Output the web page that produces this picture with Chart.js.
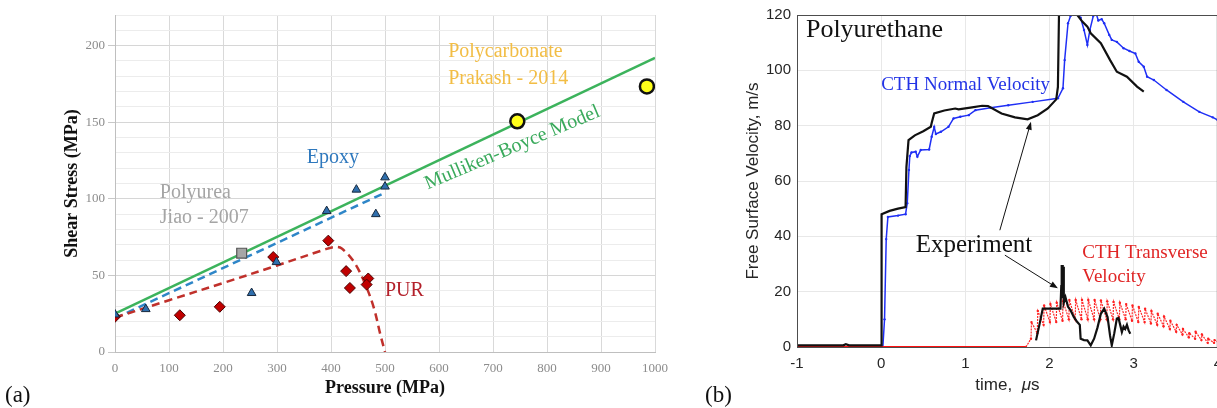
<!DOCTYPE html>
<html>
<head>
<meta charset="utf-8">
<script src="https://cdn.jsdelivr.net/npm/chart.js@4.4.1/dist/chart.umd.min.js"></script>
<style>
  html, body { margin: 0; padding: 0; background: #fff; overflow: hidden; width: 1217px; height: 408px; }
  #wrapA { position: absolute; left: 0; top: 0; width: 700px; height: 408px; }
  #wrapB { position: absolute; left: 700px; top: 0; width: 530px; height: 408px; }
</style>
</head>
<body>
<div id="wrapA"><canvas id="chartA" width="700" height="408"></canvas></div>
<div id="wrapB"><canvas id="chartB" width="530" height="408"></canvas></div>
<script>
// ---- panel (a): shear stress vs pressure ----
const mbPressure = [0, 1000];
const mbStress = [25, 192];
const epoxyFitP = [0, 500];
const epoxyFitS = [22, 104];
const purFitP = [0, 100, 200, 300, 385, 405, 420, 444, 466, 480, 491, 500];
const purFitS = [22.5, 33.8, 45, 56.5, 66.5, 68.5, 67.5, 58, 42, 28, 12, 0];
const epoxyP = [0, 57, 253, 299, 392, 447, 483, 500, 500];
const epoxyS = [24.5, 28, 38.5, 58.7, 92, 106, 90, 114, 108];
const purP = [0, 120, 194, 293, 395, 428, 435, 469, 466];
const purS = [23, 24, 29.5, 62, 72.7, 52.8, 41.8, 48, 44];
const polyureaP = [234.6];
const polyureaS = [64.5];
const pcP = [745, 985];
const pcS = [150.6, 173.4];

// ---- panel (b): free surface velocity vs time ----
const expT = [-1, -0.45, -0.42, -0.38, 0, 0.005, 0.1, 0.2, 0.29, 0.3, 0.325, 0.4, 0.5, 0.59, 0.6, 0.63, 0.75, 0.88, 0.92, 1.08, 1.2, 1.27, 1.43, 1.59, 1.74, 1.86, 1.98, 2.08, 2.1, 2.12, 2.3, 2.33, 2.39, 2.45, 2.49, 2.61, 2.72, 2.8, 2.92, 3.04, 3.12];
const expV = [0.6, 0.6, 1, 0.6, 0.6, 48, 49.2, 50, 50.6, 65, 74.8, 76.5, 78, 79.6, 81, 84.4, 85.5, 86.2, 85.9, 86.6, 87.2, 87.1, 84.4, 83, 82.3, 83.8, 86.2, 89.5, 94, 135, 128, 120, 117.6, 115.8, 113.4, 109.8, 103.7, 99.5, 97.7, 94.1, 92.3];

const expTrT = [1.84, 1.88, 1.92, 2.13, 2.14, 2.145, 2.15, 2.155, 2.16, 2.165, 2.17, 2.19, 2.22, 2.25, 2.29, 2.33, 2.36, 2.37, 2.41, 2.45, 2.49, 2.53, 2.57, 2.61, 2.65, 2.69, 2.72, 2.74, 2.77, 2.8, 2.82, 2.84, 2.86, 2.88, 2.9, 2.92, 2.94, 2.96];
const expTrV = [2.4, 8, 13.9, 13.9, 22, 29.6, 18, 29.6, 20, 29, 16, 18, 14.5, 13.3, 10.8, 9, 8, 3, 2.5, 2.4, 0.6, 3, 7, 12, 13.9, 10.8, 4, 0.6, 5, 10.3, 10.5, 8, 5.4, 7.4, 6.5, 8, 6, 4.8];

const cthNT = [-1, 0.02, 0.04, 0.06, 0.08, 0.2, 0.29, 0.31, 0.33, 0.34, 0.36, 0.41, 0.43, 0.47, 0.57, 0.6, 0.63, 0.65, 0.71, 0.8, 0.86, 0.94, 1.04, 1.12, 1.3, 1.51, 1.8, 2.1, 2.16, 2.18, 2.22, 2.25, 2.28, 2.33, 2.37, 2.41, 2.45, 2.48, 2.52, 2.55, 2.58, 2.62, 2.65, 2.71, 2.74, 2.8, 2.88, 2.95, 3.02, 3.06, 3.12, 3.16, 3.24, 3.39, 3.59, 3.78, 3.94, 4.0];
const cthNV = [0, 0, 10, 39, 47, 47.5, 48, 52, 64, 69, 70.3, 70.6, 68.8, 71.2, 71.4, 76, 79.5, 77, 77.8, 79.6, 82.6, 83.2, 83.8, 85.6, 86.5, 87.4, 88.6, 89.9, 93.5, 103.7, 117, 119.6, 121, 120.5, 119, 114.6, 109.2, 114.6, 119.6, 121, 118, 118.5, 117, 112.8, 111, 110.3, 108, 107, 106.1, 103.1, 101.3, 97.7, 96.5, 92.9, 88.6, 85, 83, 82];

const cthTT = [-1, 1.72, 1.78, 1.786, 1.855, 1.861, 1.93, 1.936, 2.005, 2.011, 2.08, 2.086, 2.155, 2.161, 2.23, 2.236, 2.305, 2.311, 2.38, 2.386, 2.455, 2.461, 2.53, 2.536, 2.605, 2.611, 2.68, 2.686, 2.755, 2.761, 2.83, 2.836, 2.905, 2.911, 2.98, 2.986, 3.055, 3.061, 3.13, 3.136, 3.205, 3.211, 3.28, 3.286, 3.355, 3.361, 3.43, 3.436, 3.505, 3.511, 3.58, 3.586, 3.655, 3.661, 3.73, 3.736, 3.805, 3.811, 3.88, 3.886, 3.955, 3.961, 4.0];
const cthTV = [0, 0, 3, 9, 5, 13, 8, 15, 9, 15.5, 9, 16, 9.5, 16.5, 10, 17, 10, 17, 10, 17, 10, 17, 10, 17, 10, 16.8, 10, 16.5, 10, 16.3, 10, 16, 10, 15.5, 9.5, 15, 9, 14.5, 9, 13.8, 8.5, 13, 8, 12, 7.5, 11, 6.5, 9.5, 5.5, 8, 4.5, 6.5, 3.5, 5, 3, 5.5, 2.5, 4.5, 1.5, 3, 1.5, 2.5, 2];

const xy = (xs, ys) => xs.map((x, i) => ({ x: x, y: ys[i] }));

const SERIF = '"Liberation Serif", "Times New Roman", serif';
const SANS = '"Liberation Sans", Arial, sans-serif';

function label(ctx, str, x, y, font, color, align) {
  ctx.font = font;
  ctx.fillStyle = color;
  ctx.textAlign = align || 'left';
  ctx.textBaseline = 'middle';
  ctx.fillText(str, x, y);
}

function arrow(ctx, x1, y1, x2, y2) {
  const a = Math.atan2(y2 - y1, x2 - x1);
  ctx.strokeStyle = '#111';
  ctx.fillStyle = '#111';
  ctx.lineWidth = 1;
  ctx.beginPath();
  ctx.moveTo(x1, y1);
  ctx.lineTo(x2 - 6 * Math.cos(a), y2 - 6 * Math.sin(a));
  ctx.stroke();
  ctx.beginPath();
  ctx.moveTo(x2, y2);
  ctx.lineTo(x2 - 8 * Math.cos(a) + 3 * Math.sin(a), y2 - 8 * Math.sin(a) - 3 * Math.cos(a));
  ctx.lineTo(x2 - 8 * Math.cos(a) - 3 * Math.sin(a), y2 - 8 * Math.sin(a) + 3 * Math.cos(a));
  ctx.closePath();
  ctx.fill();
}

// text for panel (a)
const notesA = {
  id: 'notesA',
  afterDraw(chart) {
    const ctx = chart.ctx;
    const sx = chart.scales.x, sy = chart.scales.y;
    const px = v => sx.getPixelForValue(v), py = v => sy.getPixelForValue(v);
    ctx.save();
    label(ctx, 'Polycarbonate', px(617), py(196), '20px ' + SERIF, '#f2bd45');
    label(ctx, 'Prakash - 2014', px(617), py(178.6), '20px ' + SERIF, '#f2bd45');
    label(ctx, 'Epoxy', px(355), py(126.6), '20px ' + SERIF, '#2e78bd');
    label(ctx, 'Polyurea', px(83), py(104), '20px ' + SERIF, '#a5a5a5');
    label(ctx, 'Jiao - 2007', px(83), py(87.7), '20px ' + SERIF, '#a5a5a5');
    label(ctx, 'PUR', px(500), py(40), '20px ' + SERIF, '#b3202a');
    ctx.save();
    ctx.translate(px(736), py(133.3));
    ctx.rotate(-23 * Math.PI / 180);
    label(ctx, 'Mulliken-Boyce Model', 0, 0, '20px ' + SERIF, '#3aaa5c', 'center');
    ctx.restore();
    // axis titles
    label(ctx, 'Pressure (MPa)', (chart.chartArea.left + chart.chartArea.right) / 2, 388, 'bold 18px ' + SERIF, '#111', 'center');
    ctx.save();
    ctx.translate(72, (chart.chartArea.top + chart.chartArea.bottom) / 2);
    ctx.rotate(-Math.PI / 2);
    label(ctx, 'Shear Stress (MPa)', 0, 0, 'bold 18px ' + SERIF, '#111', 'center');
    ctx.restore();
    label(ctx, '(a)', 5, 396, '23px ' + SERIF, '#111');
    ctx.restore();
  }
};

new Chart(document.getElementById('chartA'), {
  type: 'scatter',
  data: {
    datasets: [
      { data: xy(pcP, pcS), pointStyle: 'circle', pointRadius: 7, backgroundColor: '#ffff1a', borderColor: '#111', borderWidth: 2.5, order: 0 },
      { data: xy(polyureaP, polyureaS), pointStyle: 'rect', pointRadius: 7, backgroundColor: '#a6a6a6', borderColor: '#555', borderWidth: 1.2, order: 0 },
      { data: xy(epoxyP, epoxyS), pointStyle: 'triangle', pointRadius: 5, backgroundColor: '#2f6fad', borderColor: '#17283d', borderWidth: 1, order: 1 },
      { data: xy(purP, purS), pointStyle: 'rectRot', pointRadius: 5.5, backgroundColor: '#c00000', borderColor: '#4a0000', borderWidth: 1, order: 2 },
      { data: xy(purFitP, purFitS), showLine: true, pointRadius: 0, borderColor: '#c0302b', borderWidth: 2.5, borderDash: [8, 5], tension: 0.35, order: 5 },
      { data: xy(epoxyFitP, epoxyFitS), showLine: true, pointRadius: 0, borderColor: '#2e86c8', borderWidth: 2.5, borderDash: [8, 5], order: 5 },
      { data: xy(mbPressure, mbStress), showLine: true, pointRadius: 0, borderColor: '#3cb35c', borderWidth: 2.5, order: 6 }
    ]
  },
  options: {
    responsive: false,
    animation: false,
    layout: { padding: { top: 15, right: 45, left: 0, bottom: 0 } },
    plugins: { legend: { display: false }, tooltip: { enabled: false } },
    scales: {
      x: {
        type: 'linear', min: 0, max: 1000,
        ticks: { stepSize: 100, autoSkip: false, maxRotation: 0, padding: 9, color: '#8c8c8c', font: { family: SERIF, size: 13 },
          callback: v => String(v) },
        grid: { color: '#d9d9d9', drawTicks: false },
        border: { color: '#bfbfbf' },
        afterFit(s) { s.height = 56; }
      },
      y: {
        type: 'linear', min: 0, max: 220,
        ticks: { stepSize: 10, autoSkip: false, padding: 3, color: '#8c8c8c', font: { family: SERIF, size: 13 },
          callback: v => (v % 50 === 0 ? String(v) : '') },
        grid: { color: c => (c.tick && c.tick.value % 50 === 0 ? '#d6d6d6' : '#ececec'),
          tickColor: c => (c.tick && c.tick.value % 50 === 0 ? '#c8c8c8' : 'rgba(0,0,0,0)'), tickLength: 7 },
        border: { color: '#bfbfbf' },
        afterFit(s) { s.width = 115; }
      }
    }
  },
  plugins: [notesA]
});

// text, arrows and frame for panel (b)
const notesB = {
  id: 'notesB',
  afterDraw(chart) {
    const ctx = chart.ctx;
    const a = chart.chartArea;
    const sx = chart.scales.x, sy = chart.scales.y;
    const px = v => sx.getPixelForValue(v), py = v => sy.getPixelForValue(v);
    ctx.save();
    ctx.strokeStyle = '#4d4d4d';
    ctx.lineWidth = 1;
    ctx.strokeRect(a.left + 0.5, a.top + 0.5, a.right - a.left - 1, a.bottom - a.top);
    label(ctx, 'Polyurethane', px(-0.894), py(114.6), '26px ' + SERIF, '#111');
    label(ctx, 'CTH Normal Velocity', px(0.0), py(94.7), '19px ' + SERIF, '#2233e6');
    label(ctx, 'Experiment', px(0.41), py(36.8), '25px ' + SERIF, '#111');
    label(ctx, 'CTH Transverse', px(2.39), py(33.9), '19px ' + SERIF, '#e02525');
    label(ctx, 'Velocity', px(2.39), py(25.2), '19px ' + SERIF, '#e02525');
    arrow(ctx, px(1.41), py(42.2), px(1.78), py(81.4));
    arrow(ctx, px(1.47), py(33.2), px(2.10), py(21.2));
    // axis titles
    const cx = (a.left + a.right) / 2;
    ctx.font = '17px ' + SANS;
    const w1 = ctx.measureText('time,  ').width;
    ctx.font = 'italic 17px ' + SANS;
    const w2 = ctx.measureText('\u03bc').width;
    ctx.font = '17px ' + SANS;
    const w3 = ctx.measureText('s').width;
    const x0 = cx - (w1 + w2 + w3) / 2;
    label(ctx, 'time,  ', x0, 385, '17px ' + SANS, '#262626');
    label(ctx, '\u03bc', x0 + w1, 385, 'italic 17px ' + SANS, '#262626');
    label(ctx, 's', x0 + w1 + w2, 385, '17px ' + SANS, '#262626');
    ctx.save();
    ctx.translate(53, (a.top + a.bottom) / 2);
    ctx.rotate(-Math.PI / 2);
    label(ctx, 'Free Surface Velocity, m/s', 0, 0, '17px ' + SANS, '#262626', 'center');
    ctx.restore();
    label(ctx, '(b)', 5, 396, '23px ' + SERIF, '#111');
    ctx.restore();
  }
};

// flat part of the transverse trace is solid, the ringing part dotted
const flatSeg = c => c.p0.parsed.y === 0 && c.p1.parsed.y === 0;

new Chart(document.getElementById('chartB'), {
  type: 'scatter',
  data: {
    datasets: [
      { data: xy(expTrT, expTrV), showLine: true, pointRadius: 0, borderColor: '#111', borderWidth: 2.2, order: 0 },
      { data: xy(expT, expV), showLine: true, pointRadius: 0, borderColor: '#111', borderWidth: 2.2, order: 1 },
      { data: xy(cthTT, cthTV), showLine: true, pointRadius: 1.2, pointStyle: 'circle', backgroundColor: '#ff2020', borderColor: '#ff2a2a', pointBorderWidth: 0, borderWidth: 1.2, borderDash: [2, 1],
        segment: { borderDash: c => (flatSeg(c) ? [] : [2, 1]), borderWidth: c => (flatSeg(c) ? 2 : 1.2), borderColor: c => (flatSeg(c) ? '#ff1010' : '#ff2a2a') },
        order: 2 },
      { data: xy(cthNT, cthNV), showLine: true, pointRadius: 1.2, pointStyle: 'circle', backgroundColor: '#1f2ff5', borderColor: '#1f2ff5', pointBorderWidth: 0, borderWidth: 1.5, order: 3 }
    ]
  },
  options: {
    responsive: false,
    animation: false,
    layout: { padding: { top: 15, right: 8, left: 0, bottom: 0 } },
    plugins: { legend: { display: false }, tooltip: { enabled: false } },
    scales: {
      x: {
        type: 'linear', min: -1, max: 4,
        ticks: { stepSize: 1, autoSkip: false, maxRotation: 0, padding: 8, color: '#262626', font: { family: SANS, size: 15 } },
        grid: { color: '#e8e8e8', drawTicks: false },
        border: { color: '#4d4d4d' },
        afterFit(s) { s.height = 61; }
      },
      y: {
        type: 'linear', min: 0, max: 120,
        ticks: { stepSize: 20, autoSkip: false, padding: 6, color: '#262626', font: { family: SANS, size: 15 } },
        grid: { color: '#e8e8e8', drawTicks: false },
        border: { color: '#4d4d4d' },
        afterFit(s) { s.width = 97; }
      }
    }
  },
  plugins: [notesB]
});
</script>
</body>
</html>
